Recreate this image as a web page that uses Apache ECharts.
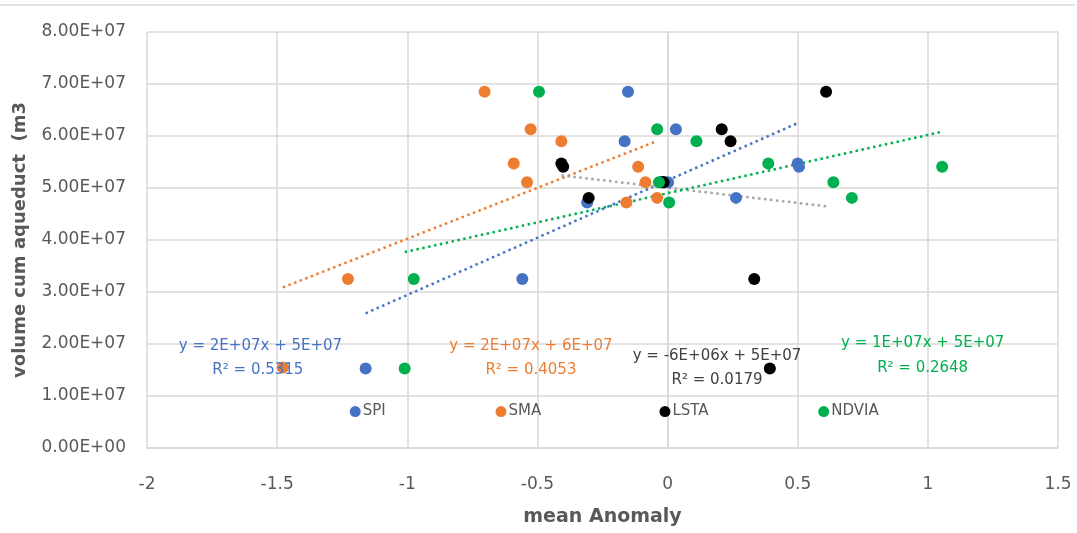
<!DOCTYPE html>
<html><head><meta charset="utf-8">
<script src="https://cdn.jsdelivr.net/npm/echarts@6/dist/echarts.min.js"></script>
<style>html,body{margin:0;padding:0;background:#fff}#c{width:1077px;height:533px}</style>
</head><body><div id="c"></div>
<script>
// Data: [mean anomaly, volume cum aqueduct (m3)]
const spiX   = [-1.16, -0.558, -0.309, -0.165, -0.152, -0.01, 0.002, 0.032, 0.263, 0.500, 0.505];
const spiY   = [1.53e7, 3.25e7, 4.72e7, 5.90e7, 6.85e7, 5.11e7, 5.11e7, 6.13e7, 4.81e7, 5.47e7, 5.41e7];
const smaX   = [-1.478, -1.228, -0.703, -0.591, -0.540, -0.526, -0.408, -0.158, -0.113, -0.085, -0.040];
const smaY   = [1.55e7, 3.25e7, 6.85e7, 5.47e7, 5.11e7, 6.13e7, 5.90e7, 4.72e7, 5.41e7, 5.11e7, 4.81e7];
const lstaX  = [-0.408, -0.401, -0.303, -0.025, -0.015, 0.208, 0.242, 0.333, 0.393, 0.609, -0.02];
const lstaY  = [5.47e7, 5.41e7, 4.81e7, 5.11e7, 5.11e7, 6.13e7, 5.90e7, 3.25e7, 1.53e7, 6.85e7, 5.11e7];
const ndviaX = [-1.01, -0.975, -0.494, -0.040, -0.033, 0.006, 0.111, 0.387, 0.637, 0.708, 1.055];
const ndviaY = [1.53e7, 3.25e7, 6.85e7, 6.13e7, 5.11e7, 4.72e7, 5.90e7, 5.47e7, 5.11e7, 4.81e7, 5.41e7];
const seriesNames = ['SPI', 'SMA', 'LSTA', 'NDVIA'];
const eqTexts = ['y = 2E+07x + 5E+07', 'y = 2E+07x + 6E+07', 'y = -6E+06x + 5E+07', 'y = 1E+07x + 5E+07'];
const r2Texts = ['R² = 0.5315', 'R² = 0.4053', 'R² = 0.0179', 'R² = 0.2648'];
const eqPos = [[-1.564, 1.96e7], [-0.525, 1.96e7], [0.19, 1.76e7], [0.98, 2.02e7]];
const r2Pos = [[-1.574, 1.50e7], [-0.525, 1.50e7], [0.19, 1.31e7], [0.98, 1.54e7]];
const legendX = [-1.2, -0.64, -0.01, 0.6];
const yTicks = [0, 1e7, 2e7, 3e7, 4e7, 5e7, 6e7, 7e7, 8e7];

const colors = ['#4472C4', '#ED7D31', '#000000', '#00B050'];
const trendColors = ['#4472C4', '#ED7D31', '#A5A5A5', '#00B050'];
const xs = [spiX, smaX, lstaX, ndviaX];
const ys = [spiY, smaY, lstaY, ndviaY];

function fit(x, y) {
  const n = x.length;
  let sx = 0, sy = 0, sxx = 0, sxy = 0;
  for (let i = 0; i < n; i++) { sx += x[i]; sy += y[i]; sxx += x[i] * x[i]; sxy += x[i] * y[i]; }
  const b = (n * sxy - sx * sy) / (n * sxx - sx * sx);
  const a = (sy - b * sx) / n;
  const lo = Math.min(...x), hi = Math.max(...x);
  return [[lo, a + b * lo], [hi, a + b * hi]];
}

const font = '"DejaVu Sans", sans-serif';
const series = [];
for (let i = 0; i < 4; i++) {
  series.push({
    name: seriesNames[i], type: 'scatter', symbolSize: 12,
    itemStyle: { color: colors[i], opacity: 1 },
    data: xs[i].map((v, k) => [v, ys[i][k]]),
    z: 3,
    markPoint: {
      symbol: 'circle', symbolSize: 0, silent: true,
      label: { show: true, color: colors[i] === '#000000' ? '#404040' : colors[i], fontSize: 15, fontFamily: font, position: 'inside', formatter: p => p.name },
      data: [
        { name: eqTexts[i], coord: eqPos[i] },
        { name: r2Texts[i], coord: r2Pos[i] }
      ]
    }
  });
}
for (let i = 0; i < 4; i++) {
  series.push({
    name: seriesNames[i] + ' trend', type: 'line', symbol: 'none', silent: true,
    lineStyle: { color: trendColors[i], width: 2.5, type: [2.5, 3.5] },
    data: fit(xs[i], ys[i]), z: 2
  });
}
// legend keys drawn inside the plot area
for (let i = 0; i < 4; i++) {
  series.push({
    name: seriesNames[i] + ' key', type: 'scatter', symbolSize: 11, silent: true,
    itemStyle: { color: colors[i], opacity: 1 },
    label: { show: true, position: 'right', distance: 2, formatter: seriesNames[i], color: '#595959', fontSize: 15, fontFamily: font },
    data: [[legendX[i], 7e6]], z: 4
  });
}

const chart = echarts.init(document.getElementById('c'), null, { renderer: 'canvas' });
chart.setOption({
  animation: false,
  backgroundColor: '#fff',
  grid: { left: 147, right: 19, top: 32, bottom: 85, containLabel: false, outerBoundsMode: 'none' },
  graphic: [{ type: 'line', shape: { x1: 0, y1: 5, x2: 1075, y2: 5 }, style: { stroke: '#d9d9d9', lineWidth: 1.5 } }],
  xAxis: {
    type: 'value', min: -2, max: 1.5, interval: 0.5,
    name: 'mean Anomaly', nameLocation: 'middle', nameGap: 60,
    nameTextStyle: { fontSize: 19, fontWeight: 'bold', color: '#595959', fontFamily: font },
    axisLine: { show: true, onZero: false, lineStyle: { color: '#d9d9d9', width: 1.5 } },
    axisTick: { show: false },
    splitLine: { show: true, lineStyle: { color: '#d9d9d9', width: 1.5 } },
    axisLabel: { fontSize: 17, color: '#595959', margin: 28, fontFamily: font, formatter: v => String(v) }
  },
  yAxis: {
    type: 'value', min: 0, max: 8e7, interval: 1e7,
    name: 'volume cum aqueduct  (m3', nameLocation: 'middle', nameGap: 118,
    nameTextStyle: { fontSize: 18, fontWeight: 'bold', color: '#595959', fontFamily: font },
    axisLine: { show: true, lineStyle: { color: '#d9d9d9', width: 1.5 } },
    axisTick: { show: false },
    splitLine: { show: true, lineStyle: { color: '#d9d9d9', width: 1.5 } },
    axisLabel: { fontSize: 17, color: '#595959', margin: 21, fontFamily: font,
      formatter: v => { const t = yTicks.find(q => q === v); const val = t !== undefined ? t : v; return val === 0 ? '0.00E+00' : val.toExponential(2).toUpperCase().replace('E+', 'E+0'); } }
  },
  series
});
</script></body></html>
